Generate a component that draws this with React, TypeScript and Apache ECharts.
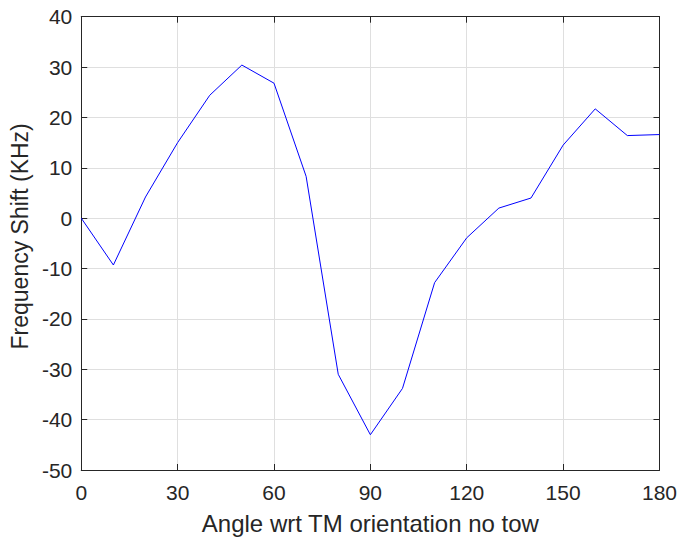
import React, { useEffect, useRef } from "react";
import * as echarts from "echarts";

const angles = [0, 10, 20, 30, 40, 50, 60, 70, 80, 90, 100, 110, 120, 130, 140, 150, 160, 170, 180];
const shifts = [0, -9.3, 4.2, 15, 24.4, 30.4, 26.8, 8.3, -31, -43, -33.8, -12.8, -3.9, 2.0, 4.0, 14.5, 21.7, 16.4, 16.6];
const xTicks = { min: 0, max: 180, interval: 30 };
const yTicks = { min: -50, max: 40, interval: 10 };
const xTitle = "Angle wrt TM orientation no tow";
const yTitle = "Frequency Shift (KHz)";

const AXIS_COLOR = "#262626";
const GRID_COLOR = "#dfdfdf";
const FONT = "Liberation Sans, Arial, Helvetica, sans-serif";

export default function App() {
  const ref = useRef<HTMLDivElement>(null);
  useEffect(() => {
    if (!ref.current) return;
    const chart = echarts.init(ref.current, undefined, { renderer: "svg" });
    const axisCommon = {
      type: "value" as const,
      axisLine: { show: true, onZero: false, lineStyle: { color: AXIS_COLOR, width: 1 } },
      axisTick: { show: true, inside: true, length: 6, lineStyle: { color: AXIS_COLOR, width: 1 } },
      axisLabel: { color: AXIS_COLOR, fontSize: 21, fontFamily: FONT },
    };
    chart.setOption({
      animation: false,
      backgroundColor: "#ffffff",
      grid: { left: 80.7, right: 20.3, top: 16.7, bottom: 65.5, containLabel: false },
      xAxis: [
        {
          ...axisCommon,
          position: "bottom",
          min: xTicks.min,
          max: xTicks.max,
          interval: xTicks.interval,
          axisLabel: { ...axisCommon.axisLabel, margin: 12 },
          splitLine: { show: true, lineStyle: { color: GRID_COLOR, width: 1 } },
          name: xTitle,
          nameLocation: "middle",
          nameGap: 41,
          nameTextStyle: { color: AXIS_COLOR, fontSize: 24, fontFamily: FONT },
        },
        {
          ...axisCommon,
          position: "top",
          min: xTicks.min,
          max: xTicks.max,
          interval: xTicks.interval,
          axisLabel: { show: false },
          splitLine: { show: false },
        },
      ],
      yAxis: [
        {
          ...axisCommon,
          position: "left",
          min: yTicks.min,
          max: yTicks.max,
          interval: yTicks.interval,
          axisLabel: { ...axisCommon.axisLabel, margin: 9 },
          splitLine: { show: true, lineStyle: { color: GRID_COLOR, width: 1 } },
          name: yTitle,
          nameLocation: "middle",
          nameGap: 50,
          nameTextStyle: { color: AXIS_COLOR, fontSize: 23, fontFamily: FONT, padding: [0, 0, 0, 14] },
        },
        {
          ...axisCommon,
          position: "right",
          min: yTicks.min,
          max: yTicks.max,
          interval: yTicks.interval,
          axisLabel: { show: false },
          splitLine: { show: false },
        },
      ],
      series: [
        {
          type: "line",
          xAxisIndex: 0,
          yAxisIndex: 0,
          data: angles.map((a, i) => [a, shifts[i]]),
          showSymbol: false,
          symbol: "none",
          lineStyle: { color: "#0000ff", width: 1 },
        },
      ],
    });
    return () => chart.dispose();
  }, []);
  return (
    <div
      ref={ref}
      style={{ position: "fixed", left: 0, top: 0, width: 680, height: 540, background: "#fff" }}
    />
  );
}
